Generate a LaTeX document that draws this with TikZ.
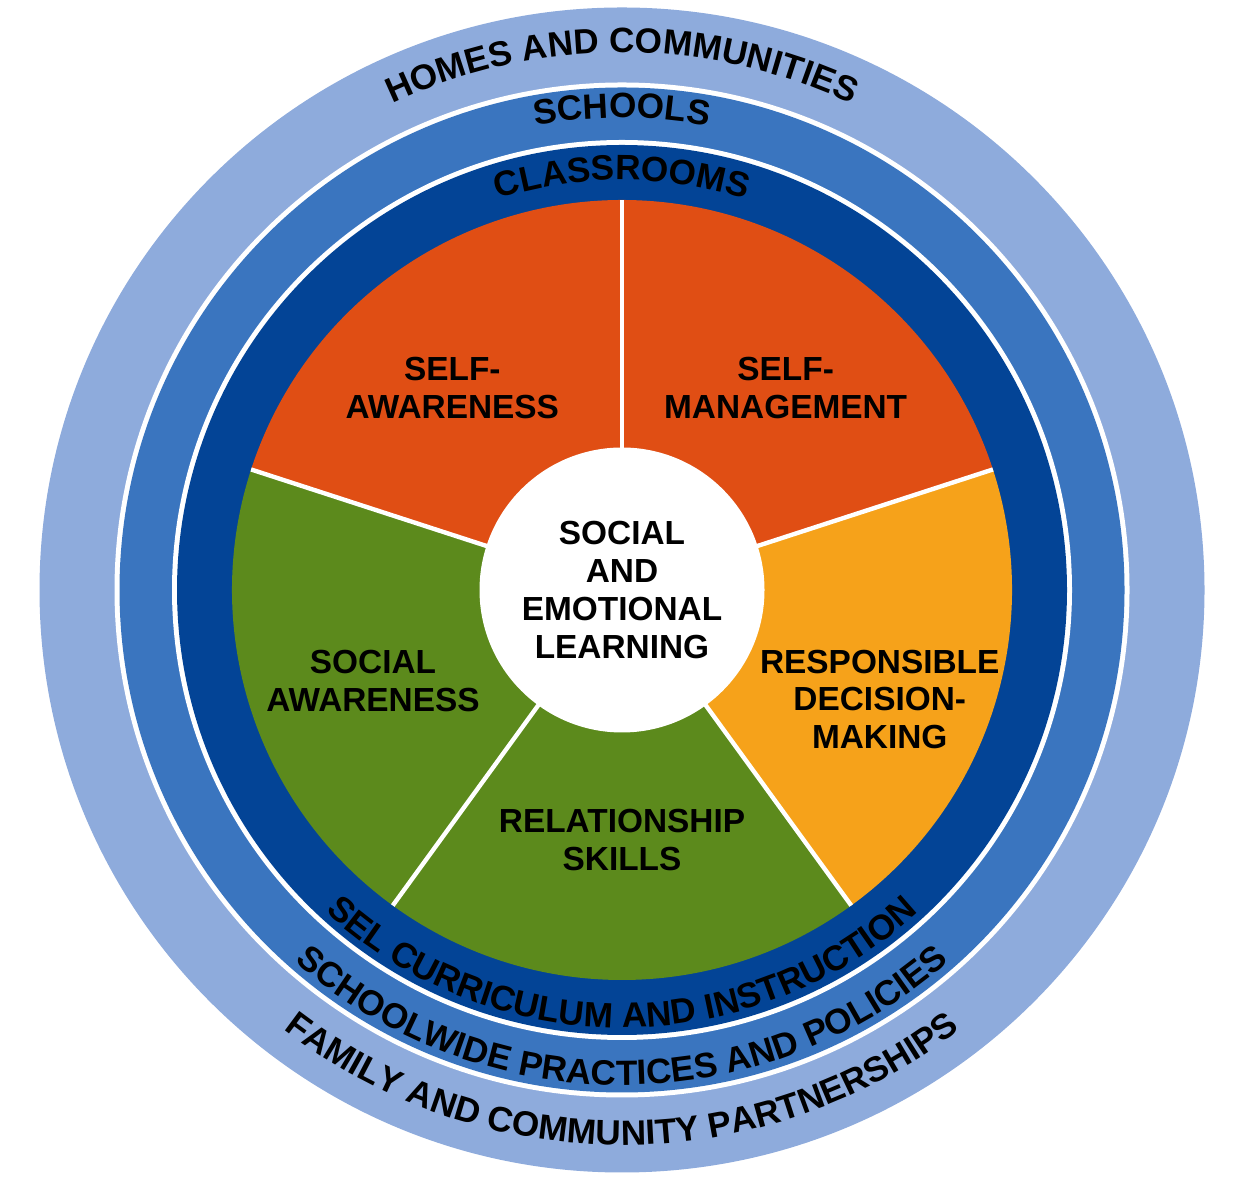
\documentclass[tikz,border=0pt]{standalone}
\usepackage{fontspec}
\setmainfont{Liberation Sans}
\usetikzlibrary{calc,decorations.text}
\definecolor{ringlight}{HTML}{8EABDC}
\definecolor{ringmid}{HTML}{3A75BF}
\definecolor{ringdark}{HTML}{034496}
\definecolor{selred}{HTML}{E04E14}
\definecolor{selorange}{HTML}{F6A21A}
\definecolor{selgreen}{HTML}{5C8A1C}
\tikzset{
  wedgelabel/.style={align=center, font=\fontsize{19}{21.5}\selectfont\bfseries},
  arctext/.style={decorate, decoration={text along path, text align=center,
      text={|\fontsize{20}{24}\selectfont\bfseries|#1}}}
}
\begin{document}
\begin{tikzpicture}
   % frame and centre
   \useasboundingbox (0,0) rectangle (24.86,23.68);
   \coordinate (C) at (12.44,11.88);

   % rings
   \fill[ringlight] (C) circle (11.65);
   \fill[white] (C) circle (10.15);
   \fill[ringmid] (C) circle (10.05);
   \fill[white] (C) circle (9.0);
   \fill[ringdark] (C) circle (8.9);

   % the five wedges
   \foreach \a/\col in {90/selred, 18/selred, -54/selorange, -126/selgreen, 162/selgreen}
      \fill[\col] (C) -- ++(\a:7.8) arc (\a:\a+72:7.8) -- cycle;
   \foreach \a in {90, 18, -54, -126, 162}
      \draw[white, line width=2.5pt] (C) -- ++(\a:7.8);

   \node[circle, fill=white, minimum size=5.7cm, wedgelabel] (sel) at (C)
      {SOCIAL\\AND\\EMOTIONAL\\LEARNING};

   \node[wedgelabel] (sa) at ($(C)+(130:5.28)$) {SELF-\\AWARENESS};
   \node[wedgelabel] (sm) at ($(C)+(51:5.2)$) {SELF-\\MANAGEMENT};
   \node[wedgelabel] (rd) at ($(C)+(-23:5.6)$) {RESPONSIBLE\\DECISION-\\MAKING};
   \node[wedgelabel] (rs) at ($(C)+(-90:5.0)$) {RELATIONSHIP\\SKILLS};
   \node[wedgelabel] (so) at ($(C)+(-160:5.3)$) {SOCIAL\\AWARENESS};

   % texts along the rings
   \path[arctext={HOMES AND COMMUNITIES}] ($(C)+(170:10.75)$) arc (170:10:10.75);
   \path[arctext={SCHOOLS}] ($(C)+(170:9.44)$) arc (170:10:9.44);
   \path[arctext={CLASSROOMS}] ($(C)+(170:8.2)$) arc (170:10:8.2);
   \path[arctext={SEL CURRICULUM AND INSTRUCTION}] ($(C)+(200:8.75)$) arc (200:340:8.75);
   \path[arctext={SCHOOLWIDE PRACTICES AND POLICIES}] ($(C)+(200:9.9)$) arc (200:340:9.9);
   \path[arctext={FAMILY AND COMMUNITY PARTNERSHIPS}] ($(C)+(200:11.1)$) arc (200:340:11.1);
\end{tikzpicture}
\end{document}
